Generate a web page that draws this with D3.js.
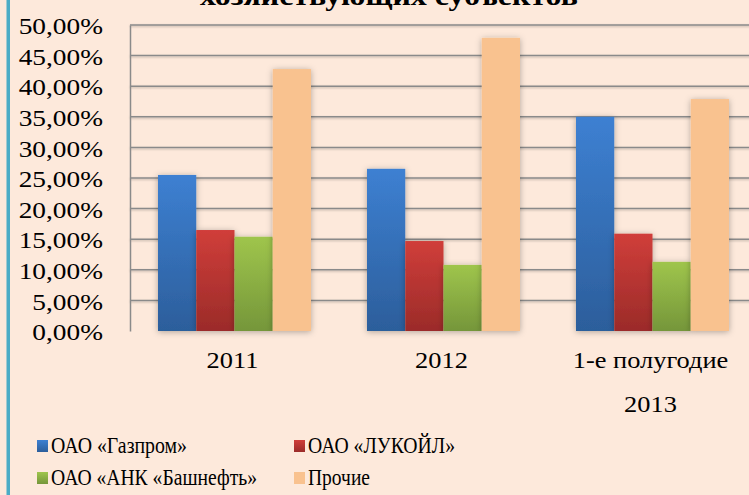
<!DOCTYPE html>
<html><head><meta charset="utf-8">
<script src="https://cdn.jsdelivr.net/npm/d3@7"></script>
<style>
html,body{margin:0;padding:0;background:#fde9db;}
svg{display:block;}
</style></head>
<body>
<svg id="chart" width="749" height="495"></svg>
<script>
const categories = [["2011"], ["2012"], ["1-е полугодие", "2013"]];
const seriesNames = ["ОАО «Газпром»", "ОАО «ЛУКОЙЛ»", "ОАО «АНК «Башнефть»", "Прочие"];
const gazprom  = [25.5, 26.5, 35.0];
const lukoil   = [16.5, 14.7, 15.9];
const bashneft = [15.4, 10.8, 11.3];
const other    = [42.8, 47.9, 37.9];
const yTicks = [0, 5, 10, 15, 20, 25, 30, 35, 40, 45, 50];
const title = "хозяйствующих субъектов";

const FONT = '"Liberation Serif", "Times New Roman", serif';
const values = [gazprom, lukoil, bashneft, other];
const colors = [
  {top:"#3d80d2", bot:"#2c5e9b"},
  {top:"#d03e3a", bot:"#9b2b29"},
  {top:"#9fc54c", bot:"#75963a"},
  {top:"#f9c28f", bot:"#f9c28f"}
];

const svg = d3.select("#chart");
const W = 749, H = 495;
const plot = {left:130, top:25, bottom:331, right:757};

svg.append("rect").attr("width", W).attr("height", H).attr("fill", "#fde9db");
svg.append("rect").attr("x", 6.5).attr("y", 0).attr("width", 3.5).attr("height", H).attr("fill", "#4bacc6");

const defs = svg.append("defs");
colors.forEach((c, i) => {
  const g = defs.append("linearGradient").attr("id", "g" + i).attr("x1", 0).attr("y1", 0).attr("x2", 0).attr("y2", 1);
  g.append("stop").attr("offset", "0%").attr("stop-color", c.top);
  g.append("stop").attr("offset", "100%").attr("stop-color", c.bot);
});
const f = defs.append("filter").attr("id", "sh").attr("x", "-30%").attr("y", "-10%").attr("width", "160%").attr("height", "130%");
f.append("feDropShadow").attr("dx", 0).attr("dy", 1).attr("stdDeviation", 3).attr("flood-color", "#000").attr("flood-opacity", 0.3);
const fl = defs.append("filter").attr("id", "lsh").attr("x", "-5%").attr("y", "-200%").attr("width", "110%").attr("height", "500%");
fl.append("feDropShadow").attr("dx", 0).attr("dy", 1).attr("stdDeviation", 1).attr("flood-color", "#000").attr("flood-opacity", 0.25);

// title (cut off at top, as in the reference)
svg.append("text").attr("x", 389).attr("y", 5).attr("text-anchor", "middle")
  .style("font-family", FONT).attr("font-size", 27).attr("font-weight", "bold").attr("fill", "#000")
  .attr("textLength", 378).attr("lengthAdjust", "spacingAndGlyphs").text(title);

const y = d3.scaleLinear().domain([0, 50]).range([plot.bottom, plot.top]);
const x0 = d3.scaleBand().domain(d3.range(categories.length)).range([plot.left, plot.right]).padding(0);
const x1 = d3.scaleBand().domain(d3.range(seriesNames.length)).range([28, x0.bandwidth() - 28]).padding(0);

// gridlines
const grid = svg.append("g").attr("filter", "url(#lsh)");
grid.selectAll("line").data(yTicks.filter(t => t > 0)).join("line")
  .attr("x1", plot.left).attr("x2", W + 10)
  .attr("y1", d => y(d)).attr("y2", d => y(d))
  .attr("stroke", "#8a8a8a").attr("stroke-width", 1.5);

// y axis
const yAxis = d3.axisLeft(y).tickValues(yTicks).tickSize(0)
  .tickFormat(d => d3.format(".2f")(d).replace(".", ",") + "%");
const ya = svg.append("g").attr("transform", `translate(${plot.left},0)`).call(yAxis);
ya.select(".domain").attr("stroke", "#8a8a8a").attr("stroke-width", 1.5);
ya.selectAll("text").style("font-family", FONT).attr("font-size", 24).attr("fill", "#000")
  .attr("x", 0).attr("dy", "0.32em").attr("text-anchor", "end")
  .attr("transform", "translate(-27,1) scale(1.14,1)");

// bars
const groups = svg.append("g").selectAll("g").data(categories).join("g")
  .attr("transform", (d, i) => `translate(${x0(i)},0)`);
groups.selectAll("rect").data((d, i) => values.map((v, s) => ({s, v: v[i]}))).join("rect")
  .attr("x", d => x1(d.s)).attr("width", x1.bandwidth())
  .attr("y", d => y(d.v)).attr("height", d => y(0) - y(d.v))
  .attr("fill", d => `url(#g${d.s})`).attr("filter", "url(#sh)");

// x axis baseline
svg.append("line").attr("x1", plot.left).attr("x2", W + 10).attr("y1", y(0)).attr("y2", y(0))
  .attr("stroke", "#8a8a8a").attr("stroke-width", 2).attr("filter", "url(#lsh)");

// category labels
const xl = svg.append("g");
categories.forEach((lines, i) => {
  const cx = x0(i) + x0.bandwidth() / 2 - 2;
  lines.forEach((ln, j) => {
    xl.append("text").attr("x", 0).attr("y", 0)
      .attr("transform", `translate(${cx},${368 + j * 44}) scale(1.1,1)`)
      .attr("text-anchor", "middle").style("font-family", FONT).attr("font-size", 24).attr("fill", "#000").text(ln);
  });
});

// legend
const legPos = [[37, 453], [294, 453], [37, 485], [294, 485]];
const legLen = [136, 147, 206, 62];
const leg = svg.append("g").selectAll("g").data(seriesNames).join("g")
  .attr("transform", (d, i) => `translate(${legPos[i][0]},${legPos[i][1]})`);
leg.append("rect").attr("x", 0).attr("y", -13).attr("width", 11).attr("height", 12)
  .attr("fill", (d, i) => `url(#g${i})`);
leg.append("text").attr("x", 14).attr("y", 0).style("font-family", FONT).attr("font-size", 23).attr("fill", "#000")
  .attr("textLength", (d, i) => legLen[i]).attr("lengthAdjust", "spacingAndGlyphs").text(d => d);
</script>
</body></html>
